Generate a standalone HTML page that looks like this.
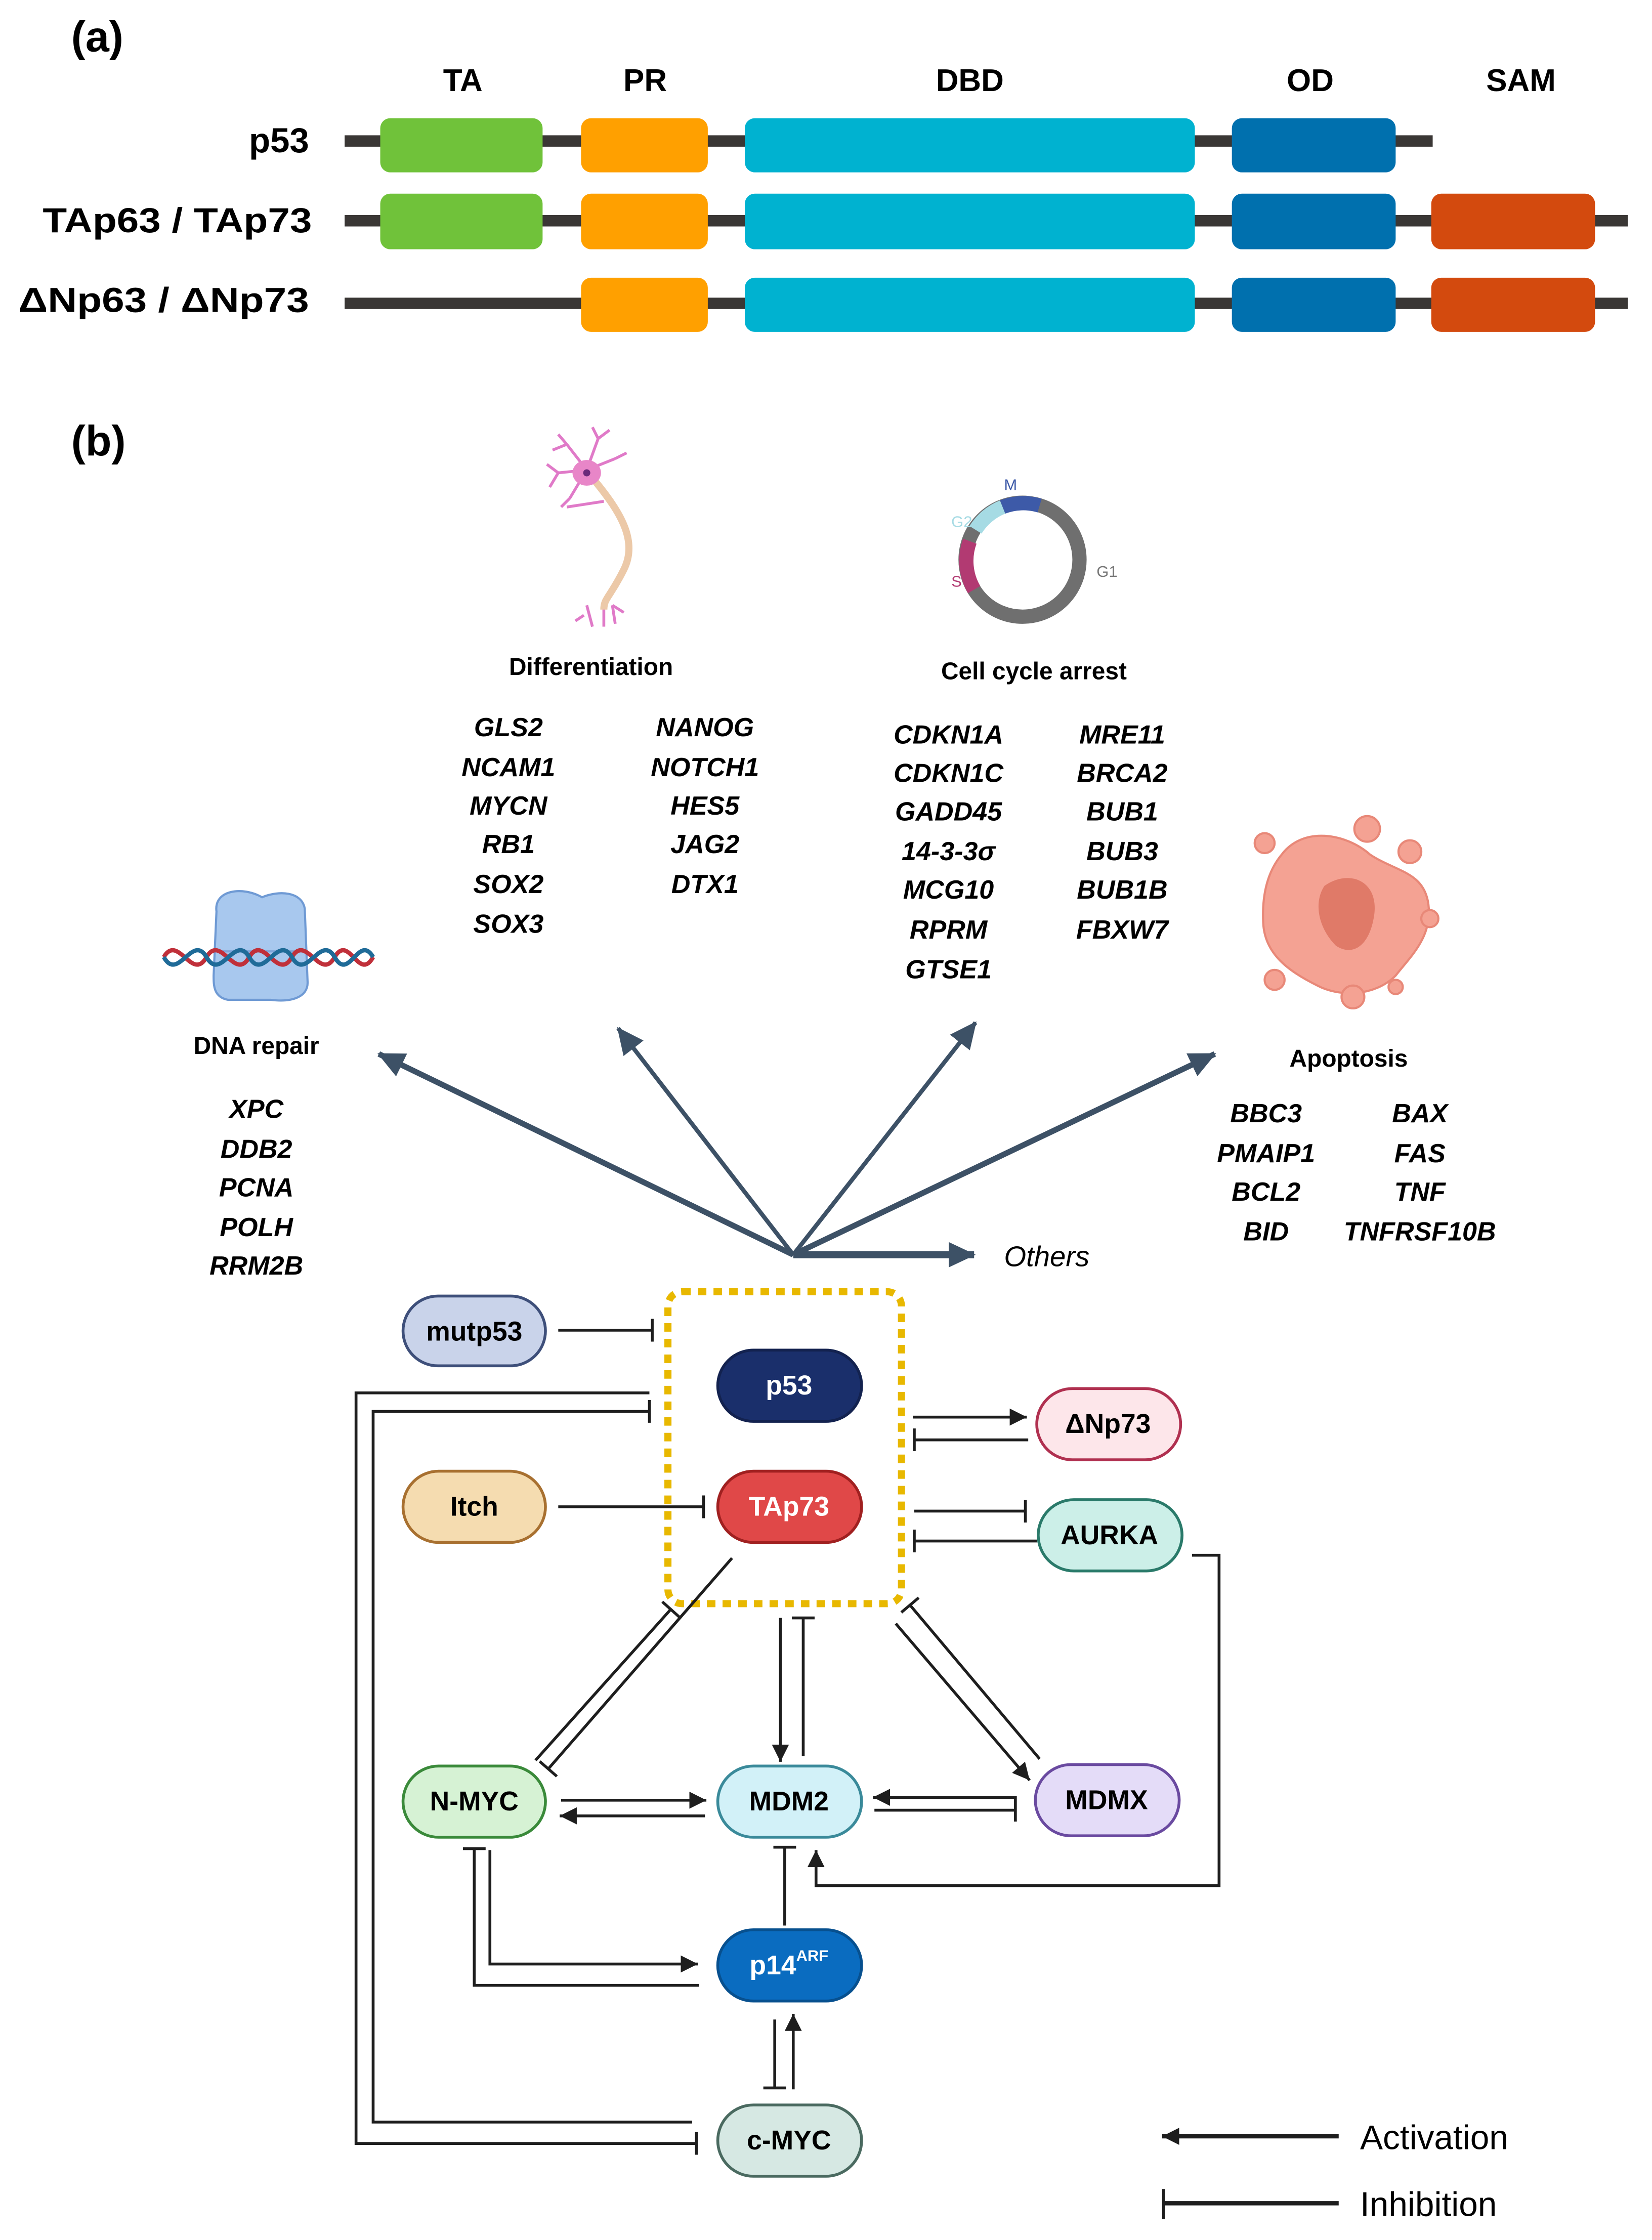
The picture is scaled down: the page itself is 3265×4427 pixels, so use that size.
<!DOCTYPE html>
<html><head><meta charset="utf-8"><style>
html,body{margin:0;padding:0;background:#fff;}
svg{display:block;}
text{font-family:"Liberation Sans",sans-serif;}
.h{font-weight:bold;font-size:22px;text-anchor:middle;}
.g{font-weight:bold;font-style:italic;font-size:18.5px;text-anchor:middle;}
.t{font-weight:bold;font-size:17px;text-anchor:middle;}
.n{font-weight:bold;font-size:19px;text-anchor:middle;dominant-baseline:central;}
.e{stroke:#1e1e1e;stroke-width:2;fill:none;}
</style></head><body>
<svg width="3265" height="4427" viewBox="0 0 1160 1572.8" preserveAspectRatio="none" xmlns="http://www.w3.org/2000/svg">
<defs>
<marker id="ar" markerUnits="userSpaceOnUse" markerWidth="14" markerHeight="14" refX="12" refY="6" orient="auto" viewBox="0 0 14 12"><path d="M0,0 L12,6 L0,12 z" fill="#1e1e1e"/></marker>
<marker id="br" markerUnits="userSpaceOnUse" markerWidth="4" markerHeight="16" refX="1" refY="8" orient="auto" viewBox="0 0 4 16"><path d="M1,0 L1,16" stroke="#1e1e1e" stroke-width="2"/></marker>
<marker id="ab" markerUnits="userSpaceOnUse" markerWidth="20" markerHeight="20" refX="16" refY="8" orient="auto" viewBox="0 0 18 16"><path d="M0,0 L17,8 L0,16 z" fill="#3d5166"/></marker>
</defs>

<!-- (a) -->
<text x="50" y="36" font-size="30" font-weight="bold">(a)</text>
<text class="h" x="325" y="64">TA</text>
<text class="h" x="453" y="64">PR</text>
<text class="h" x="681" y="64">DBD</text>
<text class="h" x="920" y="64">OD</text>
<text class="h" x="1068" y="64">SAM</text>
<g font-weight="bold" font-size="24.5" text-anchor="end">
<text x="217" y="107">p53</text>
<text x="219" y="163" textLength="189" lengthAdjust="spacingAndGlyphs">TAp63 / TAp73</text>
<text x="217" y="219" textLength="204" lengthAdjust="spacingAndGlyphs">ΔNp63 / ΔNp73</text>
</g>
<g fill="#3a3735">
<rect x="242" y="95" width="764" height="8"/>
<rect x="242" y="151" width="901" height="8"/>
<rect x="242" y="209" width="901" height="8"/>
</g>
<g>
<rect x="267" y="83" width="114" height="38" rx="7" fill="#70c23a"/>
<rect x="408" y="83" width="89" height="38" rx="7" fill="#ffa000"/>
<rect x="523" y="83" width="316" height="38" rx="7" fill="#00b2d0"/>
<rect x="865" y="83" width="115" height="38" rx="7" fill="#0070ae"/>
<rect x="267" y="136" width="114" height="39" rx="7" fill="#70c23a"/>
<rect x="408" y="136" width="89" height="39" rx="7" fill="#ffa000"/>
<rect x="523" y="136" width="316" height="39" rx="7" fill="#00b2d0"/>
<rect x="865" y="136" width="115" height="39" rx="7" fill="#0070ae"/>
<rect x="1005" y="136" width="115" height="39" rx="7" fill="#d34a0e"/>
<rect x="408" y="195" width="89" height="38" rx="7" fill="#ffa000"/>
<rect x="523" y="195" width="316" height="38" rx="7" fill="#00b2d0"/>
<rect x="865" y="195" width="115" height="38" rx="7" fill="#0070ae"/>
<rect x="1005" y="195" width="115" height="38" rx="7" fill="#d34a0e"/>
</g>

<!-- (b) -->
<text x="50" y="320" font-size="30" font-weight="bold">(b)</text>

<!-- neuron icon -->
<g stroke="#e07ac8" stroke-width="2" fill="none">
<path d="M412,330 L398,312 M398,312 L392,305 M398,312 L388,316 M412,330 L392,332 M392,332 L384,326 M392,332 L386,342 M412,330 L400,350 M400,350 L394,356 M412,330 L420,308 M420,308 L416,300 M420,308 L428,302 M412,330 L432,322 M432,322 L440,318"/>
<path d="M424,352 L398,356"/>
<path d="M416,440 L412,425 M424,440 L424,425 M432,438 L430,425 M438,430 L430,425 M410,432 L404,436"/>
</g>
<path d="M418,338 C436,360 448,380 438,400 C428,420 424,420 424,428" stroke="#ecc9a8" stroke-width="5" fill="none"/>
<ellipse cx="412" cy="332" rx="10" ry="9" fill="#e886c8"/>
<circle cx="412" cy="332" r="2.5" fill="#6a2a7a"/>

<!-- cell cycle ring -->
<g fill="none" stroke-width="10">
<circle cx="718" cy="393" r="40" stroke="#6f6f6f"/>
<path d="M704,356 A40,40 0 0 1 730,355" stroke="#3d5aa8"/>
<path d="M685,372 A40,40 0 0 1 704,356" stroke="#a6dbe4"/>
<path d="M684,414 A40,40 0 0 1 681,380" stroke="#b23a72"/>
</g>
<text x="705" y="344" font-size="11" fill="#3d5aa8">M</text>
<text x="668" y="370" font-size="11" fill="#a6dbe4">G2</text>
<text x="668" y="412" font-size="11" fill="#b23a72">S</text>
<text x="770" y="405" font-size="11" fill="#777">G1</text>

<!-- DNA repair icon -->
<g>
<path d="M152,640 C150,625 170,622 184,630 C196,625 212,626 214,638 L216,690 C216,700 205,704 190,702 L160,702 C150,700 150,692 150,685 z" fill="#a8c8ee" stroke="#6f9ad4" stroke-width="1.5"/>
<path d="M150,668 L216,668" stroke="#7fa5da" stroke-width="1.5"/>
<path d="M115,672 C125,655 135,690 145,672 C155,655 165,690 175,672 C185,655 195,690 205,672 C215,655 225,690 235,672 C245,655 252,690 262,672" stroke="#c0303a" stroke-width="3" fill="none"/>
<path d="M115,672 C125,690 135,655 145,672 C155,690 165,655 175,672 C185,690 195,655 205,672 C215,690 225,655 235,672 C245,690 252,655 262,672" stroke="#1f6b98" stroke-width="3" fill="none"/>
</g>

<!-- apoptosis icon -->
<g fill="#f4a293" stroke="#e88878" stroke-width="1.5">
<path d="M900,600 C915,580 945,585 962,600 C980,612 1000,612 1003,635 C1006,658 990,672 980,685 C965,700 940,700 925,692 C905,682 888,670 887,648 C886,628 890,612 900,600 z"/>
<circle cx="888" cy="592" r="7"/><circle cx="960" cy="582" r="9"/><circle cx="990" cy="598" r="8"/>
<circle cx="1004" cy="645" r="6"/><circle cx="895" cy="688" r="7"/><circle cx="950" cy="700" r="8"/><circle cx="980" cy="693" r="5"/>
</g>
<path d="M930,622 C947,610 968,618 965,642 C962,664 950,672 938,664 C926,652 922,634 930,622 z" fill="#e07a68"/>

<!-- category labels -->
<text class="t" x="415" y="474">Differentiation</text>
<text class="t" x="726" y="477">Cell cycle arrest</text>
<text class="t" x="180" y="740">DNA repair</text>
<text class="t" x="947" y="749">Apoptosis</text>

<g class="g">
<text class="g" x="357" y="517">GLS2</text>
<text class="g" x="357" y="545">NCAM1</text>
<text class="g" x="357" y="572">MYCN</text>
<text class="g" x="357" y="599">RB1</text>
<text class="g" x="357" y="627">SOX2</text>
<text class="g" x="357" y="655">SOX3</text>
<text class="g" x="495" y="517">NANOG</text>
<text class="g" x="495" y="545">NOTCH1</text>
<text class="g" x="495" y="572">HES5</text>
<text class="g" x="495" y="599">JAG2</text>
<text class="g" x="495" y="627">DTX1</text>

<text class="g" x="666" y="522">CDKN1A</text>
<text class="g" x="666" y="549">CDKN1C</text>
<text class="g" x="666" y="576">GADD45</text>
<text class="g" x="666" y="604">14-3-3σ</text>
<text class="g" x="666" y="631">MCG10</text>
<text class="g" x="666" y="659">RPRM</text>
<text class="g" x="666" y="687">GTSE1</text>
<text class="g" x="788" y="522">MRE11</text>
<text class="g" x="788" y="549">BRCA2</text>
<text class="g" x="788" y="576">BUB1</text>
<text class="g" x="788" y="604">BUB3</text>
<text class="g" x="788" y="631">BUB1B</text>
<text class="g" x="788" y="659">FBXW7</text>

<text class="g" x="180" y="785">XPC</text>
<text class="g" x="180" y="813">DDB2</text>
<text class="g" x="180" y="840">PCNA</text>
<text class="g" x="180" y="868">POLH</text>
<text class="g" x="180" y="895">RRM2B</text>

<text class="g" x="889" y="788">BBC3</text>
<text class="g" x="889" y="816">PMAIP1</text>
<text class="g" x="889" y="843">BCL2</text>
<text class="g" x="889" y="871">BID</text>
<text class="g" x="997" y="788">BAX</text>
<text class="g" x="997" y="816">FAS</text>
<text class="g" x="997" y="843">TNF</text>
<text class="g" x="997" y="871">TNFRSF10B</text>
</g>

<!-- fan arrows -->
<g stroke="#3d5166" fill="none">
<line x1="557" y1="881" x2="266" y2="740" stroke-width="4" marker-end="url(#ab)"/>
<line x1="557" y1="881" x2="434" y2="722" stroke-width="3" marker-end="url(#ab)"/>
<line x1="557" y1="881" x2="685" y2="718" stroke-width="3" marker-end="url(#ab)"/>
<line x1="557" y1="881" x2="853" y2="740" stroke-width="4" marker-end="url(#ab)"/>
<line x1="557" y1="881" x2="684" y2="881" stroke-width="5" marker-end="url(#ab)"/>
</g>
<text x="705" y="889" font-size="20" font-style="italic">Others</text>

<!-- yellow dotted box -->
<rect x="469" y="907" width="164" height="219" rx="10" fill="none" stroke="#e8b800" stroke-width="5" stroke-dasharray="6,5"/>

<!-- edges -->
<g class="e">
<line x1="392" y1="934" x2="458" y2="934" marker-end="url(#br)"/>
<polyline points="456,978 250,978 250,1505 489,1505" marker-end="url(#br)"/>
<polyline points="486,1490 262,1490 262,991 456,991" marker-end="url(#br)"/>
<line x1="392" y1="1058" x2="494" y2="1058" marker-end="url(#br)"/>
<line x1="641" y1="995" x2="721" y2="995" marker-end="url(#ar)"/>
<line x1="722" y1="1011" x2="642" y2="1011" marker-end="url(#br)"/>
<line x1="642" y1="1061" x2="720" y2="1061" marker-end="url(#br)"/>
<line x1="728" y1="1082" x2="642" y2="1082" marker-end="url(#br)"/>
<polyline points="837,1092 856,1092 856,1324 573,1324 573,1299" marker-end="url(#ar)"/>
<line x1="514" y1="1094" x2="385" y2="1242" marker-end="url(#br)"/>
<line x1="376" y1="1236" x2="471" y2="1130" marker-end="url(#br)"/>
<line x1="548" y1="1136" x2="548" y2="1237" marker-end="url(#ar)"/>
<line x1="564" y1="1233" x2="564" y2="1136" marker-end="url(#br)"/>
<line x1="629" y1="1140" x2="723" y2="1250" marker-end="url(#ar)"/>
<line x1="730" y1="1235" x2="639" y2="1127" marker-end="url(#br)"/>
<line x1="394" y1="1264" x2="496" y2="1264" marker-end="url(#ar)"/>
<line x1="495" y1="1275" x2="393" y2="1275" marker-end="url(#ar)"/>
<line x1="714" y1="1262" x2="613" y2="1262" marker-end="url(#ar)"/>
<line x1="614" y1="1271" x2="713" y2="1271" marker-end="url(#br)"/>
<line x1="551" y1="1352" x2="551" y2="1297" marker-end="url(#br)"/>
<polyline points="344,1299 344,1379 490,1379" marker-end="url(#ar)"/>
<polyline points="491,1394 333,1394 333,1298" marker-end="url(#br)"/>
<line x1="544" y1="1418" x2="544" y2="1466" marker-end="url(#br)"/>
<line x1="557" y1="1467" x2="557" y2="1414" marker-end="url(#ar)"/>
</g>

<!-- nodes -->
<g stroke-width="2">
<rect x="283" y="910" width="100" height="49" rx="24.5" fill="#c9d3ea" stroke="#3e4f7a"/>
<rect x="504" y="948" width="101" height="50" rx="25" fill="#1a2f6b" stroke="#13224f"/>
<rect x="728" y="975" width="101" height="50" rx="25" fill="#fde6ea" stroke="#b03050"/>
<rect x="283" y="1033" width="100" height="50" rx="25" fill="#f5dcb0" stroke="#a87030"/>
<rect x="504" y="1033" width="101" height="50" rx="25" fill="#e04848" stroke="#a02020"/>
<rect x="729" y="1053" width="101" height="50" rx="25" fill="#ccefe8" stroke="#2a7a6a"/>
<rect x="283" y="1240" width="100" height="50" rx="25" fill="#d6f2d4" stroke="#3a8a3a"/>
<rect x="504" y="1240" width="101" height="50" rx="25" fill="#d2f1f8" stroke="#3a8a9a"/>
<rect x="727" y="1239" width="101" height="50" rx="25" fill="#e4dcf8" stroke="#6a4aa0"/>
<rect x="504" y="1355" width="101" height="50" rx="25" fill="#0a6cc0" stroke="#07508f"/>
<rect x="504" y="1478" width="101" height="50" rx="25" fill="#d6e8e3" stroke="#4a6a60"/>
</g>
<text class="n" x="333" y="935">mutp53</text>
<text class="n" x="554" y="973" fill="#fff">p53</text>
<text class="n" x="778" y="1000">ΔNp73</text>
<text class="n" x="333" y="1058">Itch</text>
<text class="n" x="554" y="1058" fill="#fff">TAp73</text>
<text class="n" x="779" y="1078">AURKA</text>
<text class="n" x="333" y="1265">N-MYC</text>
<text class="n" x="554" y="1265">MDM2</text>
<text class="n" x="777" y="1264">MDMX</text>
<text class="n" x="554" y="1380" fill="#fff">p14<tspan font-size="11" dy="-7">ARF</tspan></text>
<text class="n" x="554" y="1503">c-MYC</text>

<!-- legend -->
<line x1="940" y1="1500" x2="816" y2="1500" stroke="#1e1e1e" stroke-width="3" marker-end="url(#ar)"/>
<text x="955" y="1509" font-size="24">Activation</text>
<line x1="940" y1="1547" x2="817" y2="1547" stroke="#1e1e1e" stroke-width="3"/>
<line x1="817" y1="1537" x2="817" y2="1558" stroke="#1e1e1e" stroke-width="2"/>
<text x="955" y="1556" font-size="24">Inhibition</text>
</svg>
</body></html>
